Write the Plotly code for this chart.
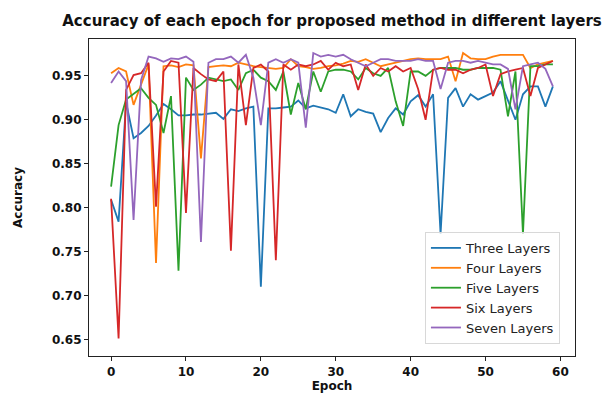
import plotly.graph_objects as go

epochs = list(range(60))

three_layers = [0.809, 0.784, 0.920, 0.879, 0.885, 0.893, 0.905, 0.918, 0.912, 0.905,
                0.905, 0.906, 0.906, 0.907, 0.908, 0.901, 0.912, 0.910, 0.913, 0.915,
                0.710, 0.913, 0.913, 0.914, 0.915, 0.922, 0.913, 0.916, 0.914, 0.912,
                0.908, 0.929, 0.904, 0.912, 0.909, 0.907, 0.886, 0.902, 0.913, 0.906,
                0.921, 0.928, 0.915, 0.929, 0.770, 0.925, 0.936, 0.915, 0.929, 0.923,
                0.927, 0.931, 0.944, 0.923, 0.900, 0.929, 0.938, 0.938, 0.915, 0.938]

four_layers = [0.953, 0.959, 0.955, 0.917, 0.940, 0.963, 0.737, 0.961, 0.962, 0.960,
               0.963, 0.962, 0.856, 0.960, 0.961, 0.962, 0.961, 0.965, 0.963, 0.961,
               0.960, 0.959, 0.958, 0.959, 0.969, 0.961, 0.960, 0.958, 0.959, 0.961,
               0.962, 0.964, 0.967, 0.966, 0.969, 0.965, 0.961, 0.963, 0.965, 0.967,
               0.969, 0.970, 0.969, 0.969, 0.969, 0.972, 0.944, 0.976, 0.970, 0.969,
               0.969, 0.972, 0.974, 0.974, 0.974, 0.974, 0.959, 0.963, 0.965, 0.967]

five_layers = [0.824, 0.894, 0.923, 0.930, 0.936, 0.925, 0.917, 0.885, 0.927, 0.728,
               0.948, 0.934, 0.940, 0.948, 0.946, 0.944, 0.946, 0.934, 0.953, 0.957,
               0.948, 0.944, 0.934, 0.955, 0.906, 0.942, 0.912, 0.955, 0.932, 0.955,
               0.957, 0.957, 0.955, 0.946, 0.959, 0.953, 0.950, 0.959, 0.921, 0.893,
               0.955, 0.955, 0.950, 0.957, 0.959, 0.959, 0.959, 0.957, 0.957, 0.959,
               0.959, 0.959, 0.957, 0.904, 0.955, 0.770, 0.961, 0.961, 0.963, 0.963]

six_layers = [0.810, 0.651, 0.934, 0.951, 0.953, 0.965, 0.801, 0.955, 0.967, 0.965,
              0.794, 0.959, 0.952, 0.946, 0.944, 0.955, 0.751, 0.963, 0.894, 0.959,
              0.963, 0.955, 0.740, 0.963, 0.957, 0.963, 0.961, 0.963, 0.967, 0.957,
              0.965, 0.961, 0.963, 0.934, 0.963, 0.950, 0.959, 0.955, 0.961, 0.955,
              0.959, 0.935, 0.900, 0.957, 0.959, 0.957, 0.957, 0.953, 0.957, 0.959,
              0.963, 0.927, 0.952, 0.955, 0.957, 0.959, 0.927, 0.959, 0.963, 0.967]

seven_layers = [0.942, 0.955, 0.944, 0.786, 0.945, 0.972, 0.970, 0.966, 0.970, 0.969,
                0.972, 0.966, 0.761, 0.965, 0.969, 0.969, 0.972, 0.965, 0.974, 0.948,
                0.894, 0.965, 0.969, 0.965, 0.969, 0.965, 0.891, 0.976, 0.972, 0.974,
                0.972, 0.974, 0.969, 0.965, 0.961, 0.965, 0.969, 0.969, 0.967, 0.967,
                0.967, 0.969, 0.967, 0.967, 0.935, 0.965, 0.967, 0.967, 0.965, 0.967,
                0.965, 0.963, 0.963, 0.958, 0.912, 0.961, 0.963, 0.965, 0.958, 0.938]

series_names = ["Three Layers", "Four Layers", "Five Layers", "Six Layers", "Seven Layers"]
series_values = [three_layers, four_layers, five_layers, six_layers, seven_layers]
colors = ["#1f77b4", "#ff7f0e", "#2ca02c", "#d62728", "#9467bd"]

x_ticks = [0, 10, 20, 30, 40, 50, 60]
y_ticks = [0.65, 0.70, 0.75, 0.80, 0.85, 0.90, 0.95]

font_family = "DejaVu Sans"

fig = go.Figure()
for name, vals, col in zip(series_names, series_values, colors):
    fig.add_trace(go.Scatter(x=epochs, y=vals, mode="lines", name=name,
                             line=dict(color=col, width=1.8)))

axis_common = dict(showline=True, linecolor="#222", linewidth=1.2, mirror=True,
                   ticks="outside", ticklen=4, tickwidth=1.2, tickcolor="#222",
                   showgrid=False, zeroline=False,
                   tickfont=dict(family=font_family, size=12, color="#111"))

fig.update_layout(
    width=610, height=394,
    margin=dict(l=81, r=43, t=31, b=46, autoexpand=False),
    paper_bgcolor="white", plot_bgcolor="white",
    font=dict(family=font_family, color="#111"),
    title=dict(text="<b>Accuracy of each epoch for proposed method in different layers</b>",
               x=324 / 610, xref="container", y=1 - 13 / 394, yref="container",
               yanchor="middle", xanchor="center",
               font=dict(family=font_family, size=15, color="#111")),
    xaxis=dict(range=[-2.95, 61.95], tickvals=x_ticks,
               ticktext=[f"<b>{t}</b>" for t in x_ticks],
               title=dict(text="<b>Epoch</b>", font=dict(family=font_family, size=12), standoff=4),
               **axis_common),
    yaxis=dict(range=[0.631, 0.992], tickvals=y_ticks,
               ticktext=[f"<b>{t:.2f}</b>" for t in y_ticks],
               title=dict(text="<b>Accuracy</b>", font=dict(family=font_family, size=12), standoff=26),
               **axis_common),
    legend=dict(x=0.969, y=0.038, xanchor="right", yanchor="bottom",
                bgcolor="rgba(255,255,255,0.8)", bordercolor="#d8d8d8", borderwidth=1,
                font=dict(family=font_family, size=13, color="#222"),
                traceorder="normal"),
    showlegend=True,
)

fig.write_html("out.html")
